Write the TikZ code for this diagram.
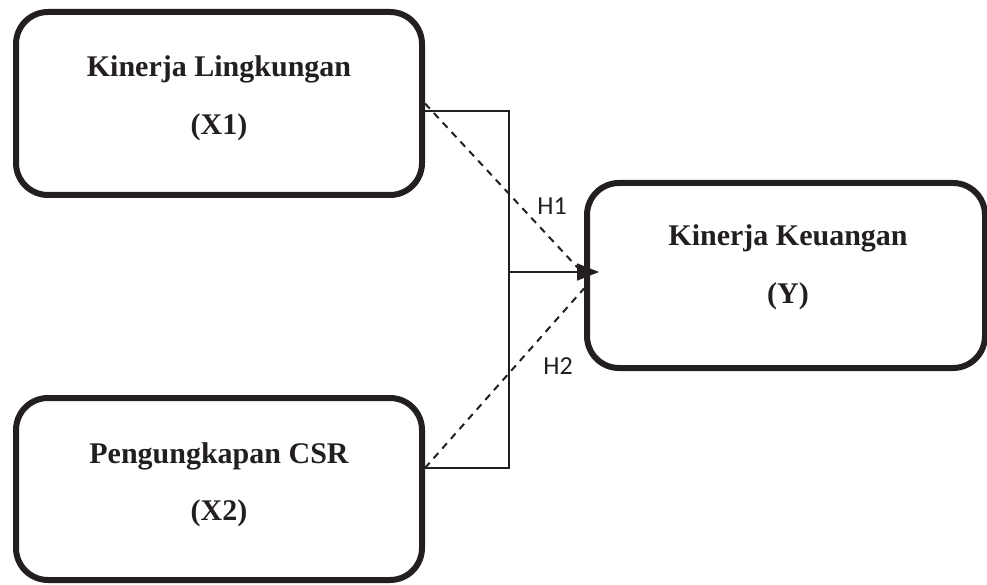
\documentclass[tikz,border=0pt]{standalone}
\usepackage{fontspec}
\setmainfont{Liberation Serif}
\newfontfamily\hfont{Carlito}
\usetikzlibrary{arrows.meta,calc}
\definecolor{ink}{HTML}{231F20}
\begin{document}
\begin{tikzpicture}[x=1pt,y=-1pt,
  box/.style={draw=ink,line width=6pt,rounded corners=32pt,inner sep=0pt},
  title/.style={font=\bfseries\fontsize{30}{36}\selectfont,text=ink,anchor=base,inner sep=0pt},
  hlab/.style={font=\hfont\fontsize{26}{30}\selectfont,text=ink,inner sep=0pt},
  link/.style={draw=ink,line width=1.5pt},
  hyp/.style={draw=ink,line width=2pt,dash pattern=on 7pt off 6pt}]
\useasboundingbox (0,0) rectangle (987,585);
% boxes
\node[box,minimum width=406pt,minimum height=183pt] (x1) at (219,103.5) {};
\node[box,minimum width=406pt,minimum height=182pt] (x2) at (219,489) {};
\node[box,minimum width=398pt,minimum height=185pt] (y) at (786,275.5) {};
% texts
\node[title] (t1) at (219,77) {Kinerja Lingkungan};
\node[title] (t1b) at (219,135) {(X1)};
\node[title] (t2) at (219,463) {Pengungkapan CSR};
\node[title] (t2b) at (219,520) {(X2)};
\node[title] (t3) at (788,246) {Kinerja Keuangan};
\node[title] (t3b) at (788,303) {(Y)};
% hypothesis labels
\node[hlab] (h1) at (552,206) {H1};
\node[hlab] (h2) at (558,366) {H2};
% bracket connector
\coordinate (j) at (509,272);
\draw[link] ([yshift=-7.5pt]x1.east) -| (j) |- ([yshift=21pt]x2.east);
\draw[link,-{Triangle[length=22pt,width=17pt]}] (j) -- ($(y.west |- j)+(15,0)$);
% dashed hypothesis lines
\draw[hyp] (x1.east) -- ([yshift=1pt]y.west);
\draw[hyp] ([yshift=21pt]x2.east) -- ([yshift=-13pt]y.west);
\end{tikzpicture}
\end{document}
